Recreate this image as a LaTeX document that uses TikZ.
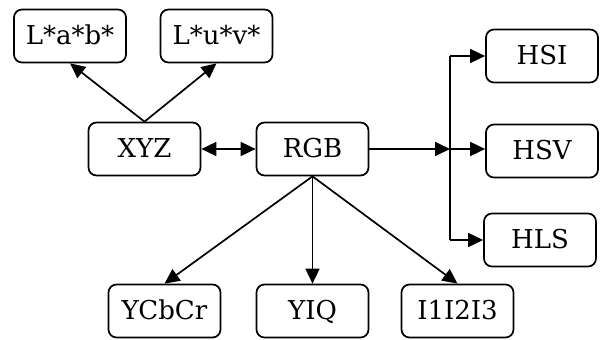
\documentclass[tikz,border=0pt]{standalone}
\usepackage{fontspec}
\setmainfont{DejaVu Serif}
\usetikzlibrary{arrows.meta}
\begin{document}
\begin{tikzpicture}[x=1pt,y=-1pt,
  cbox/.style={draw, rounded corners=8pt, line width=1.7pt, minimum width=112pt, minimum height=53pt,
    inner sep=0pt, font=\fontsize{26}{31}\selectfont, text height=19pt, text depth=2pt},
  conn/.style={line width=1.7pt},
  arr/.style={conn, -{Triangle[length=15pt,width=14pt]}},
  darr/.style={conn, {Triangle[length=15pt,width=14pt]}-{Triangle[length=15pt,width=14pt]}}]
\useasboundingbox (0,0) rectangle (603,340);
\node[cbox] (lab) at (70,36) {L*a*b*};
\node[cbox] (luv) at (216.5,36) {L*u*v*};
\node[cbox] (xyz) at (144.5,149) {XYZ};
\node[cbox] (rgb) at (312.5,149) {RGB};
\node[cbox] (hsi) at (542,56) {HSI};
\node[cbox] (hsv) at (542,151) {HSV};
\node[cbox] (hls) at (540,240) {HLS};
\node[cbox] (ycc) at (164.5,311) {YCbCr};
\node[cbox] (yiq) at (312.5,311) {YIQ};
\node[cbox] (iii) at (457.5,311) {I1I2I3};
\coordinate (bus) at (450,149);
\coordinate (bustop) at (450,56);
\coordinate (busbot) at (450,240);
\draw[arr] (xyz.north) -- (lab.south);
\draw[arr] (xyz.north) -- (luv.south);
\draw[darr] (xyz.east) -- (rgb.west);
\draw[arr] (rgb.east) -- (bus);
\draw[conn] (bustop) -- (busbot);
\draw[arr] (bustop) -- (hsi.west);
\draw[arr] (bus) -- (bus -| hsv.west);
\draw[arr] (busbot) -- (hls.west);
\draw[arr] (rgb.south) -- (ycc.north);
\draw[arr] (rgb.south) -- (yiq.north);
\draw[arr] (rgb.south) -- (iii.north);
\end{tikzpicture}
\end{document}
